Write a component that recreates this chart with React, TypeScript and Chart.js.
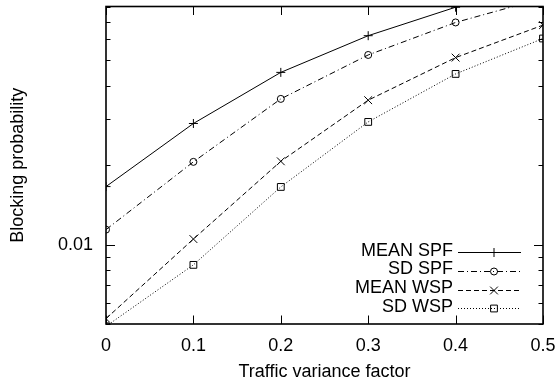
import React, { useEffect, useRef } from 'react';
import { Chart, registerables } from 'chart.js';

Chart.register(...registerables);

// ---- data ----
const xValues = [0, 0.1, 0.2, 0.3, 0.4, 0.5];
const meanSPF = [0.0166, 0.0288, 0.045, 0.062, 0.0795, 0.095];
const sdSPF = [0.0114, 0.0206, 0.0357, 0.0524, 0.0696, 0.086];
const meanWSP = [0.00524, 0.0105, 0.0207, 0.0353, 0.0512, 0.068];
const sdWSP = [0.0049, 0.00838, 0.01655, 0.0292, 0.0444, 0.0605];
const seriesLabels = ['MEAN SPF', 'SD SPF', 'MEAN WSP', 'SD WSP'];
const yLabelTicks = [0.01];
const xAxisTitle = 'Traffic variance factor';
const yAxisTitle = 'Blocking probability';

const FONT = "'Liberation Sans', Arial, Helvetica, sans-serif";

const styles = [
  { dash: [] as number[], point: 'cross', r: 4.5 },
  { dash: [6, 3, 1, 3], point: 'circle', r: 3.5 },
  { dash: [5, 3], point: 'crossRot', r: 5.5 },
  { dash: [1, 2], point: 'rect', r: 4.8 },
];

const isLabelTick = (v: number) => yLabelTicks.some((t) => Math.abs(v - t) < 1e-9);
const isWholeSignificand = (v: number) => {
  const s = v / Math.pow(10, Math.floor(Math.log10(v) + 1e-9));
  return Math.abs(s - Math.round(s)) < 1e-6;
};

function drawMarker(ctx: CanvasRenderingContext2D, kind: string, x: number, y: number, r: number) {
  ctx.beginPath();
  if (kind === 'cross') {
    ctx.moveTo(x - r, y); ctx.lineTo(x + r, y);
    ctx.moveTo(x, y - r); ctx.lineTo(x, y + r);
  } else if (kind === 'circle') {
    ctx.arc(x, y, r, 0, Math.PI * 2);
  } else if (kind === 'crossRot') {
    const d = r * Math.SQRT1_2;
    ctx.moveTo(x - d, y - d); ctx.lineTo(x + d, y + d);
    ctx.moveTo(x - d, y + d); ctx.lineTo(x + d, y - d);
  } else if (kind === 'rect') {
    const s = r * Math.SQRT1_2;
    ctx.rect(x - s, y - s, 2 * s, 2 * s);
  }
  ctx.stroke();
}

const framePlugin = {
  id: 'gnuframe',
  afterDraw(chart: any) {
    const { ctx, chartArea: a, scales } = chart;
    const xs = scales.x;
    const ys = scales.y;
    ctx.save();
    ctx.strokeStyle = '#000';
    ctx.lineWidth = 1;
    const seg = (x1: number, y1: number, x2: number, y2: number) => {
      ctx.beginPath(); ctx.moveTo(x1, y1); ctx.lineTo(x2, y2); ctx.stroke();
    };
    ctx.font = `18px ${FONT}`;
    ctx.fillStyle = '#000';
    ys.ticks.forEach((t: any) => {
      if (!isWholeSignificand(t.value)) return;
      const py = Math.round(ys.getPixelForValue(t.value)) + 0.5;
      const major = isLabelTick(t.value);
      const len = major ? 9 : 4.5;
      seg(a.left, py, a.left + len, py);
      seg(a.right, py, a.right - len, py);
      if (major) {
        ctx.textAlign = 'right';
        ctx.textBaseline = 'middle';
        ctx.fillText(String(t.value), a.left - 13, py);
      }
    });
    xs.ticks.forEach((t: any) => {
      const px = Math.round(xs.getPixelForValue(t.value)) + 0.5;
      seg(px, a.bottom, px, a.bottom - 8.5);
      seg(px, a.top, px, a.top + 8.5);
    });
    ctx.lineWidth = 1.6;
    ctx.strokeRect(a.left, a.top, a.right - a.left, a.bottom - a.top);

    // legend (inside, bottom right)
    const textRight = 453;
    const lineL = 458;
    const lineR = 521;
    const markX = 494;
    const rowY0 = 252.3;
    const rowStep = 18.7;
    ctx.textAlign = 'right';
    ctx.textBaseline = 'middle';
    chart.data.datasets.forEach((ds: any, i: number) => {
      const y = rowY0 + i * rowStep;
      ctx.fillText(ds.label, textRight, y - 1.5);
      ctx.lineWidth = 1;
      ctx.setLineDash(styles[i].dash);
      seg(lineL, Math.round(y) + 0.5, lineR, Math.round(y) + 0.5);
      ctx.setLineDash([]);
      drawMarker(ctx, styles[i].point, markX, Math.round(y) + 0.5, styles[i].r);
    });
    ctx.restore();
  },
};

export default function App() {
  const ref = useRef<HTMLCanvasElement | null>(null);
  useEffect(() => {
    if (!ref.current) return;
    const series = [meanSPF, sdSPF, meanWSP, sdWSP];
    const chart = new Chart(ref.current, {
      type: 'line',
      data: {
        datasets: series.map((vals, i) => ({
          label: seriesLabels[i],
          data: xValues.map((x, j) => ({ x, y: vals[j] })),
          borderColor: '#000',
          borderWidth: 1,
          borderDash: styles[i].dash,
          pointStyle: styles[i].point as any,
          pointRadius: styles[i].r,
          pointBorderColor: '#000',
          pointBackgroundColor: 'rgba(0,0,0,0)',
          pointBorderWidth: 1,
          tension: 0,
          fill: false,
        })),
      },
      options: {
        animation: false,
        responsive: false,
        devicePixelRatio: 1,
        layout: { padding: { top: 4, right: 17, left: 0, bottom: 0 } },
        plugins: { legend: { display: false }, tooltip: { enabled: false } },
        scales: {
          x: {
            type: 'linear',
            min: 0,
            max: 0.5,
            grid: { display: false },
            border: { display: false },
            ticks: {
              stepSize: 0.1,
              color: '#000',
              padding: 3,
              font: { family: FONT, size: 18 },
              maxRotation: 0,
              autoSkip: false,
            },
            title: {
              display: true,
              text: xAxisTitle,
              color: '#000',
              font: { family: FONT, size: 18 },
              padding: { top: 0, bottom: 3 },
            },
            afterFit: (s: any) => { s.height = 62; },
          },
          y: {
            type: 'logarithmic',
            min: 0.005,
            max: 0.08,
            grid: { display: false },
            border: { display: false },
            ticks: { display: false, autoSkip: false },
            title: {
              display: true,
              text: yAxisTitle,
              color: '#000',
              font: { family: FONT, size: 18 },
              padding: { top: 7, bottom: 0 },
            },
            afterFit: (s: any) => { s.width = 106; },
          },
        },
      },
      plugins: [framePlugin],
    });
    return () => chart.destroy();
  }, []);
  return (
    <div style={{ position: 'fixed', left: 0, top: 0, width: 560, height: 386, background: '#fff' }}>
      <canvas ref={ref} width={560} height={386} style={{ width: 560, height: 386, display: 'block' }} />
    </div>
  );
}
